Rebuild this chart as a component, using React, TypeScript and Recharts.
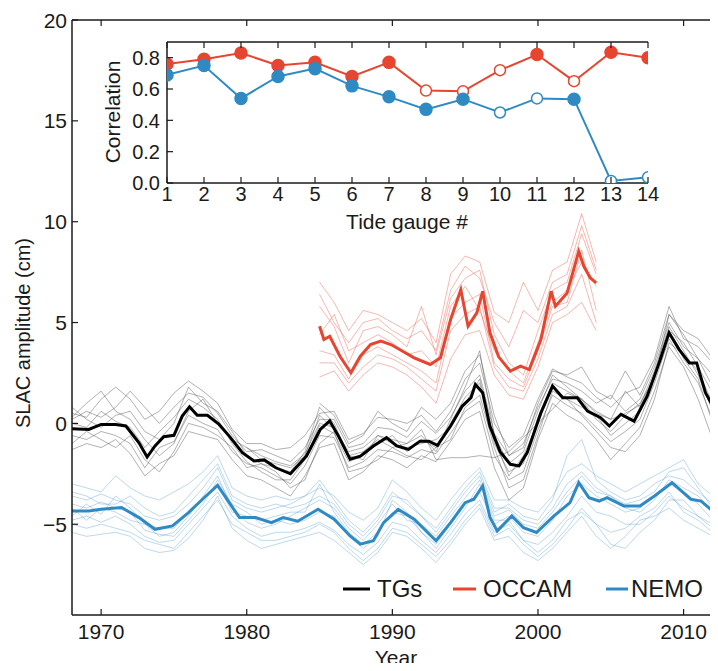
import { LineChart, Line, XAxis, YAxis } from "recharts";

const FONT = "'Liberation Sans', Arial, Helvetica, sans-serif";
const INK = "#1a1a1a";
const RED = "#e6452f";
const BLUE = "#2f8ac4";

// inset: correlation of each model with the tide gauges
const gauges = [1, 2, 3, 4, 5, 6, 7, 8, 9, 10, 11, 12, 13, 14];
const occamCorr = [0.76, 0.79, 0.83, 0.75, 0.77, 0.68, 0.77, 0.59, 0.585, 0.72, 0.82, 0.65, 0.835, 0.8];
const occamSig = [true, true, true, true, true, true, true, false, false, false, true, false, true, true];
const nemoCorr = [0.69, 0.75, 0.54, 0.68, 0.73, 0.62, 0.55, 0.47, 0.535, 0.45, 0.54, 0.535, 0.013, 0.036];
const nemoSig = [true, true, true, true, true, true, true, true, true, false, false, true, false, false];
const corrTicks = [0, 0.2, 0.4, 0.6, 0.8];

// main panel
const yearTicks = [1970, 1980, 1990, 2000, 2010];
const slacTicks = [-5, 0, 5, 10, 15, 20];

// ensemble means (thick lines)
const tgYears = [1968.0, 1969.15, 1970.0, 1971.0, 1971.7, 1972.6, 1973.16, 1973.7, 1974.3, 1975.0, 1975.57, 1976.07, 1976.6, 1977.3, 1978.1, 1978.8, 1979.7, 1980.5, 1981.2, 1982.0, 1983.0, 1984.1, 1985.05, 1985.7, 1986.3, 1987.1, 1987.8, 1988.7, 1989.6, 1990.3, 1991.1, 1991.9, 1992.5, 1993.1, 1994.0, 1994.8, 1995.4, 1995.7, 1996.2, 1996.7, 1997.4, 1998.1, 1998.7, 1999.26, 2000.2, 2001.0, 2001.7, 2002.7, 2003.4, 2004.3, 2004.9, 2005.7, 2006.6, 2007.5, 2008.4, 2009.0, 2009.7, 2010.4, 2010.9, 2011.5, 2012.4];
const tgMean = [-0.26, -0.3, -0.05, -0.05, -0.13, -0.96, -1.67, -1.12, -0.66, -0.59, 0.36, 0.82, 0.4, 0.4, -0.05, -0.63, -1.45, -1.86, -1.81, -2.2, -2.5, -1.62, -0.3, 0.12, -0.63, -1.78, -1.62, -1.12, -0.71, -1.12, -1.29, -0.88, -0.88, -1.09, -0.13, 0.86, 1.27, 1.93, 1.52, -0.15, -1.4, -2.03, -2.11, -1.45, 0.53, 1.85, 1.27, 1.27, 0.61, 0.28, -0.13, 0.45, 0.11, 1.35, 3.17, 4.49, 3.66, 3.0, 3.0, 1.52, 0.36];

const nemoYears = [1968.0, 1969.15, 1970.0, 1971.4, 1972.6, 1973.7, 1974.9, 1976.0, 1977.2, 1978.0, 1978.8, 1979.5, 1980.6, 1981.7, 1982.5, 1983.5, 1984.9, 1986.0, 1987.1, 1987.8, 1988.7, 1989.4, 1990.4, 1991.5, 1993.0, 1994.0, 1995.0, 1995.6, 1996.2, 1996.7, 1997.2, 1998.2, 1999.0, 1999.9, 2001.1, 2002.2, 2002.8, 2003.5, 2004.2, 2004.75, 2005.9, 2007.0, 2008.0, 2009.2, 2010.5, 2011.2, 2012.4];
const nemoMean = [-4.34, -4.34, -4.26, -4.17, -4.67, -5.25, -5.08, -4.42, -3.6, -3.07, -3.93, -4.67, -4.67, -4.92, -4.67, -4.85, -4.26, -4.75, -5.58, -5.99, -5.82, -4.92, -4.26, -4.75, -5.82, -4.92, -3.93, -3.76, -3.1, -4.65, -5.33, -4.59, -5.17, -5.41, -4.59, -3.93, -2.94, -3.68, -3.85, -3.68, -4.09, -4.09, -3.6, -2.94, -3.76, -3.85, -4.59];

const occamYears = [1985.0, 1985.3, 1985.7, 1986.4, 1987.15, 1987.8, 1988.5, 1989.2, 1989.9, 1990.5, 1991.5, 1992.6, 1993.3, 1994.0, 1994.7, 1995.2, 1995.8, 1996.2, 1996.7, 1997.3, 1998.1, 1998.8, 1999.4, 2000.2, 2000.9, 2001.2, 2002.0, 2002.8, 2003.15, 2003.6, 2004.0];
const occamMean = [4.82, 4.16, 4.32, 3.33, 2.51, 3.33, 3.91, 4.08, 3.91, 3.66, 3.25, 2.92, 3.25, 5.15, 6.63, 4.82, 5.48, 6.55, 4.5, 3.3, 2.59, 2.84, 2.67, 4.16, 6.55, 5.81, 6.47, 8.53, 7.79, 7.21, 6.97];

// individual gauges / model points (thin lines), annual reads
const annualYears = [1968, 1969, 1970, 1971, 1972, 1973, 1974, 1975, 1976, 1977, 1978, 1979, 1980, 1981, 1982, 1983, 1984, 1985, 1986, 1987, 1988, 1989, 1990, 1991, 1992, 1993, 1994, 1995, 1996, 1997, 1998, 1999, 2000, 2001, 2002, 2003, 2004, 2005, 2006, 2007, 2008, 2009, 2010, 2011, 2012];
const tgMembers = [
  [0.5, 0.3, 1.2, 1.8, 1.2, 0.2, 0.6, 1.5, 2.1, 1.6, 1.0, -0.3, -1.0, -1.0, -1.3, -1.2, -0.6, 0.5, 0.6, -0.8, -0.5, 0.3, 0.2, 0.0, 0.4, -0.4, 0.6, 2.2, 3.0, 0.0, -1.2, -0.6, 1.2, 2.7, 2.3, 2.0, 1.3, 0.8, 1.5, 1.8, 3.2, 5.8, 4.2, 3.8, 3.0],
  [-1.3, -1.0, -1.2, -0.8, -1.5, -2.6, -2.0, -1.6, -0.4, -0.6, -0.8, -1.8, -2.6, -2.8, -3.2, -3.6, -2.6, -1.2, -1.0, -2.8, -2.4, -1.6, -1.8, -2.2, -1.6, -1.9, -0.9, 0.2, 0.6, -2.2, -3.8, -3.2, -0.8, 1.0, 0.4, 0.0, -0.8, -1.8, -1.0, -0.2, 1.6, 3.8, 2.8, 1.2, -0.8],
  [0.2, 0.6, 0.3, 0.8, 1.6, 0.8, 0.0, 0.8, 1.5, 1.3, 0.5, -0.6, -1.4, -1.3, -1.6, -1.9, -1.2, 0.2, 0.2, -1.2, -1.0, -0.2, -0.3, -0.7, 0.1, -0.5, 0.3, 1.6, 2.4, -0.5, -1.6, -1.0, 0.8, 2.2, 2.0, 1.6, 1.0, 1.4, 0.6, 1.2, 2.8, 5.0, 3.8, 3.2, 1.8],
  [-0.6, -0.8, -0.4, -0.6, -1.0, -2.2, -1.2, -0.9, 0.4, 0.0, -0.3, -1.4, -2.0, -2.2, -2.6, -3.0, -2.1, -0.6, -0.7, -2.2, -1.9, -1.3, -1.4, -1.7, -1.3, -1.5, -0.5, 0.6, 1.1, -1.6, -2.8, -2.4, -0.3, 1.4, 0.9, 0.5, -0.2, -0.9, -0.4, 0.2, 2.0, 4.2, 3.0, 2.0, 0.2],
  [null, null, null, null, null, null, null, null, null, null, null, null, -1.2, -1.6, -1.9, -2.1, -1.5, 0.0, -0.2, -1.4, -1.2, -0.6, -0.8, -1.0, -0.3, -1.8, -1.7, -1.7, -1.6, -1.7, -1.4, -0.7, 0.0, 0.7, 1.5, 1.2, 0.5, 0.2, 1.6, 0.8, 2.4, 4.6, 4.0, 2.8, 1.5],
  [0.0, -0.2, 0.6, 0.1, -0.2, -1.2, -0.4, 0.3, 1.2, 0.8, 0.2, -1.0, -1.9, -2.4, -2.8, -2.8, -1.8, -0.1, -0.5, -1.9, -1.6, -1.0, -0.6, -1.4, -0.8, -1.2, 0.0, 1.3, 2.0, -1.0, -2.4, -2.0, 0.3, 2.0, 1.6, 1.2, 0.6, 0.2, 0.5, 0.9, 2.6, 4.8, 3.6, 2.4, 0.6],
  [0.8, 0.2, -0.2, 0.4, 0.6, -0.4, -0.8, 0.0, 1.8, 1.0, 0.6, -0.4, -1.6, -2.0, -2.2, -2.4, -1.4, 0.8, 0.0, -1.6, -1.4, -0.8, -1.2, -1.0, -0.6, -1.4, 0.2, 1.8, 3.6, -0.6, -2.0, -1.4, 0.6, 2.4, 1.8, 1.2, 0.2, -0.4, 0.4, 1.0, 2.2, 5.4, 4.4, 3.2, 2.4],
  [-1.0, -0.4, -0.8, -1.2, -0.6, -1.8, -2.4, -1.4, 0.0, -0.2, -0.6, -1.2, -2.2, -2.0, -2.4, -3.2, -2.8, -1.0, -0.4, -2.4, -2.2, -1.8, -1.2, -1.6, -1.8, -1.2, -0.8, 0.8, 1.4, -1.2, -3.2, -2.8, -0.6, 1.6, 1.2, 0.4, -0.4, -1.2, -1.4, -0.6, 1.2, 4.0, 3.4, 2.6, 1.0],
  [null, null, null, null, null, null, null, null, null, null, null, null, null, null, null, null, null, 1.0, 0.4, -1.0, -0.6, 0.6, 0.0, -0.4, 0.8, 0.2, 1.0, 2.6, 3.4, 0.4, -1.6, -1.2, 1.0, 2.6, 2.4, 2.8, 1.6, 1.2, 2.6, 1.4, 3.0, 5.4, 4.6, 4.2, 3.2],
  [0.3, 1.0, 1.6, 0.6, 0.2, -0.8, -1.6, -1.0, 0.6, 1.2, 0.0, -0.8, -1.2, -1.8, -2.0, -2.2, -1.6, 0.4, -0.3, -1.6, -1.8, -0.6, -1.0, -1.2, -1.0, -0.8, -0.2, 1.0, 2.2, -0.8, -2.6, -1.6, 0.0, 1.8, 1.2, 0.8, 0.4, -0.6, 0.0, 0.6, 2.4, 4.6, 3.2, 2.2, 0.0],
];
const nemoMembers = [
  [-3.0, -3.2, -3.4, -2.6, -3.2, -3.6, -3.8, -3.4, -3.0, -2.4, -1.6, -3.2, -3.6, -3.8, -3.6, -3.8, -3.6, -3.2, -3.6, -4.4, -4.8, -4.2, -2.8, -3.4, -4.2, -4.8, -3.8, -2.9, -2.2, -3.8, -3.8, -4.2, -4.4, -3.6, -2.4, -2.0, -2.6, -3.0, -3.4, -3.0, -2.6, -2.2, -1.8, -3.0, -3.6],
  [-5.4, -5.6, -5.5, -5.4, -5.6, -6.2, -6.4, -6.3, -5.7, -4.8, -3.6, -5.2, -5.8, -6.2, -6.0, -5.8, -5.6, -5.4, -5.8, -6.4, -7.0, -6.4, -5.4, -5.6, -6.2, -6.9, -6.0, -5.0, -4.2, -5.8, -5.6, -6.4, -6.8, -6.2, -5.4, -4.6, -5.6, -6.2, -5.6, -4.8, -4.6, -4.2, -4.8, -5.2, -5.6],
  [-3.6, -3.8, -3.5, -3.8, -4.0, -4.6, -4.8, -4.6, -4.0, -3.2, -2.2, -3.8, -4.2, -4.4, -4.2, -4.0, -3.6, -2.8, -3.8, -4.8, -5.4, -4.6, -3.4, -4.0, -4.6, -5.4, -4.4, -3.4, -2.6, -4.4, -4.0, -4.6, -4.8, -3.8, -1.6, -0.8, -2.8, -3.4, -3.8, -3.6, -3.0, -2.6, -2.8, -3.4, -4.0],
  [-4.8, -4.6, -4.9, -4.6, -5.0, -5.6, -5.9, -5.8, -5.0, -4.2, -3.4, -4.6, -5.2, -5.6, -5.4, -5.4, -5.2, -4.9, -5.3, -6.0, -6.5, -5.9, -4.9, -5.1, -5.8, -6.4, -5.5, -4.5, -3.8, -5.4, -5.0, -5.8, -6.0, -5.4, -4.6, -3.6, -4.4, -4.6, -5.0, -5.0, -4.4, -3.6, -4.2, -4.6, -5.2],
  [-4.0, -4.2, -3.9, -4.2, -4.4, -5.3, -5.5, -5.6, -4.8, -4.0, -2.8, -4.0, -4.4, -5.0, -4.8, -5.0, -4.8, -4.4, -4.6, -5.6, -6.2, -5.6, -3.8, -4.4, -5.4, -6.2, -5.2, -4.2, -3.0, -4.8, -4.8, -5.8, -6.4, -5.8, -4.8, -4.4, -5.0, -6.0, -6.2, -5.4, -4.8, -3.8, -3.8, -4.6, -5.0],
  [-4.6, -4.0, -4.5, -3.6, -4.2, -5.0, -5.6, -5.4, -4.6, -3.6, -2.6, -4.2, -4.9, -5.2, -5.0, -4.6, -4.2, -3.8, -4.2, -5.2, -5.8, -5.0, -4.0, -4.8, -5.0, -5.6, -4.6, -3.7, -2.8, -4.6, -4.3, -5.0, -5.2, -4.4, -3.4, -2.6, -3.4, -3.6, -4.2, -4.4, -3.8, -2.8, -3.2, -3.6, -4.4],
  [-4.2, -4.8, -4.2, -4.4, -4.8, -5.0, -5.2, -5.2, -4.4, -3.8, -3.0, -4.4, -4.6, -4.8, -4.6, -4.4, -4.4, -3.0, -4.4, -5.4, -6.0, -5.4, -4.4, -4.6, -5.4, -6.0, -5.0, -4.0, -3.4, -5.0, -4.6, -5.4, -5.6, -4.8, -3.6, -3.0, -3.6, -4.0, -4.4, -4.2, -3.6, -3.0, -3.4, -4.0, -4.8],
  [-3.4, -3.6, -4.0, -4.0, -3.6, -4.2, -4.6, -4.4, -3.6, -2.8, -2.0, -3.6, -4.0, -4.2, -4.0, -4.2, -4.0, -3.6, -4.0, -5.0, -5.6, -4.8, -3.6, -3.8, -4.6, -5.2, -4.2, -3.2, -2.4, -4.2, -4.2, -4.8, -5.0, -4.2, -3.0, -2.4, -3.2, -3.6, -4.0, -3.8, -3.4, -2.4, -2.2, -3.2, -4.2],
  [-5.0, -5.2, -5.0, -5.2, -5.4, -5.8, -6.0, -6.2, -5.4, -4.6, -3.8, -5.0, -5.4, -5.8, -5.8, -5.6, -5.4, -5.0, -5.4, -6.2, -6.8, -6.2, -5.2, -5.4, -6.0, -6.6, -5.8, -4.8, -4.0, -5.6, -5.2, -6.0, -6.6, -6.0, -5.2, -4.2, -5.0, -5.4, -5.2, -4.6, -4.2, -3.4, -4.4, -4.8, -5.4],
];
const occamAnnualYears = [1985, 1986, 1987, 1988, 1989, 1990, 1991, 1992, 1993, 1994, 1995, 1996, 1997, 1998, 1999, 2000, 2001, 2002, 2003, 2004];
const occamMembers = [
  [7.0, 6.0, 4.6, 5.6, 5.4, 5.0, 4.6, 5.2, 4.0, 7.4, 8.3, 8.0, 5.5, 5.0, 7.0, 5.6, 7.6, 8.0, 10.4, 8.0],
  [2.3, 2.6, 1.6, 2.4, 3.0, 2.8, 2.4, 1.8, 1.0, 3.2, 4.4, 4.6, 2.4, 1.4, 1.2, 2.8, 5.0, 5.4, 6.0, 4.6],
  [5.8, 4.8, 3.0, 4.6, 4.8, 4.4, 3.8, 5.8, 3.4, 6.2, 7.2, 7.6, 4.4, 3.0, 2.4, 4.6, 6.6, 7.0, 9.4, 7.4],
  [3.6, 3.4, 2.2, 3.4, 3.8, 3.4, 3.0, 2.6, 2.0, 5.2, 6.0, 6.4, 3.0, 2.2, 1.8, 3.6, 5.8, 6.0, 8.6, 5.6],
  [4.4, 5.4, 3.6, 4.0, 4.4, 4.0, 3.4, 3.6, 2.8, 5.8, 6.8, 5.6, 3.6, 2.6, 2.0, 4.0, 6.0, 6.6, 8.0, 6.8],
  [6.4, 5.0, 4.0, 5.0, 5.2, 4.6, 4.2, 4.6, 3.6, 6.6, 7.8, 7.2, 5.0, 3.8, 5.6, 5.0, 7.0, 7.4, 9.8, 7.6],
  [3.0, 3.0, 2.0, 2.8, 3.4, 3.2, 2.8, 2.2, 1.6, 4.6, 5.4, 5.8, 2.8, 1.8, 1.6, 3.2, 5.4, 5.8, 7.4, 5.0],
];

const pts = (xs: number[], ys: (number | null)[]) => xs.map((x, i) => ({ x, y: ys[i] }));

const gaugeRows = gauges.map((g, i) => ({
  g,
  occam: occamCorr[i],
  occamSig: occamSig[i],
  nemo: nemoCorr[i],
  nemoSig: nemoSig[i],
}));

// inward ticks, matplotlib style
const TL = 6;
const bottomTick = (gap: number, size: number, fmt?: (v: number) => string) => (p: any) => (
  <g key={`b-${p.payload.value}`}>
    <line x1={p.x} x2={p.x} y1={p.y - gap} y2={p.y - gap - TL} stroke={INK} strokeWidth={1.2} />
    <text x={p.x} y={p.y} dy="0.75em" textAnchor="middle" fontSize={size} fill={INK} fontFamily={FONT}>
      {fmt ? fmt(p.payload.value) : p.payload.value}
    </text>
  </g>
);
const leftTick = (gap: number, size: number, fmt?: (v: number) => string) => (p: any) => (
  <g key={`l-${p.payload.value}`}>
    <line x1={p.x + gap} x2={p.x + gap + TL} y1={p.y} y2={p.y} stroke={INK} strokeWidth={1.2} />
    <text x={p.x} y={p.y} dy="0.36em" textAnchor="end" fontSize={size} fill={INK} fontFamily={FONT}>
      {fmt ? fmt(p.payload.value) : String(p.payload.value).replace("-", "\u2212")}
    </text>
  </g>
);
const topTick = (p: any) => (
  <line key={`t-${p.payload.value}`} x1={p.x} x2={p.x} y1={p.y} y2={p.y + TL} stroke={INK} strokeWidth={1.2} />
);
const rightTick = (p: any) => (
  <line key={`r-${p.payload.value}`} x1={p.x} x2={p.x - TL} y1={p.y} y2={p.y} stroke={INK} strokeWidth={1.2} />
);

// inset plot box (svg coords) so markers get cut at the frame like the original
const INSET_CLIP = { x: 67, y: 12, width: 481, height: 141 };

const corrDot = (color: string, sigKey: string) => (p: any) => {
  const filled = p.payload[sigKey];
  return (
    <g key={`${sigKey}-${p.index}`}>
      {p.index === 0 && (
        <defs>
          <clipPath id={`clip-${sigKey}`}>
            <rect {...INSET_CLIP} />
          </clipPath>
        </defs>
      )}
      <circle
        clipPath={`url(#clip-${sigKey})`}
        cx={p.cx}
        cy={p.cy}
        r={filled ? 6 : 5.5}
        fill={filled ? color : "#fff"}
        stroke={color}
        strokeWidth={1.5}
      />
    </g>
  );
};

const axisLine = { stroke: INK, strokeWidth: 1.5 };

function Inset() {
  return (
    <LineChart width={560} height={215} data={gaugeRows} margin={{ top: 2, right: 12, bottom: 0, left: 0 }}>
      <XAxis dataKey="g" type="number" domain={[1, 14]} ticks={gauges} allowDataOverflow interval={0}
        height={62} tickSize={0} tickMargin={3} tickLine={false} axisLine={axisLine} tick={bottomTick(3, 20)} />
      <XAxis xAxisId="top" orientation="top" dataKey="g" type="number" domain={[1, 14]} ticks={gauges}
        allowDataOverflow interval={0} height={10} tickSize={0} tickMargin={0} tickLine={false} axisLine={axisLine} tick={topTick} />
      <YAxis type="number" domain={[0, 0.9]} ticks={corrTicks} allowDataOverflow interval={0} width={67}
        tickSize={0} tickMargin={7} tickLine={false} axisLine={axisLine} tick={leftTick(7, 20, (v) => v.toFixed(1))} />
      <YAxis yAxisId="right" orientation="right" type="number" domain={[0, 0.9]} ticks={corrTicks} allowDataOverflow
        interval={0} width={0} tickSize={0} tickMargin={0} tickLine={false} axisLine={axisLine} tick={rightTick} />
      <Line dataKey="occam" type="linear" stroke={RED} strokeWidth={2} dot={corrDot(RED, "occamSig")} activeDot={false} isAnimationActive={false} />
      <Line dataKey="nemo" type="linear" stroke={BLUE} strokeWidth={2} dot={corrDot(BLUE, "nemoSig")} activeDot={false} isAnimationActive={false} />
    </LineChart>
  );
}

export default function App() {
  return (
    <div style={{ position: "relative", width: 710, height: 663, marginBottom: -8, overflow: "hidden", fontFamily: FONT }}>
      <LineChart width={712} height={663} margin={{ top: 2, right: 0, bottom: 0, left: 0 }}>
        <XAxis dataKey="x" type="number" domain={[1968, 2012.5]} ticks={yearTicks} allowDataOverflow interval={0}
          height={56} tickSize={0} tickMargin={8} tickLine={false} axisLine={axisLine} tick={bottomTick(8, 21)} />
        <XAxis xAxisId="top" orientation="top" dataKey="x" type="number" domain={[1968, 2012.5]} ticks={yearTicks}
          allowDataOverflow interval={0} height={10} tickSize={0} tickMargin={0} tickLine={false} axisLine={axisLine} tick={topTick} />
        <YAxis type="number" domain={[-9.5, 20]} ticks={slacTicks} allowDataOverflow interval={0} width={64}
          tickSize={0} tickMargin={5} tickLine={false} axisLine={axisLine} tick={leftTick(5, 21)} />

        {tgMembers.map((m, i) => (
          <Line key={`tg-${i}`} data={pts(annualYears, m)} dataKey="y" type="linear" stroke="rgba(70,70,70,0.42)"
            strokeWidth={1} dot={false} activeDot={false} isAnimationActive={false} />
        ))}
        {nemoMembers.map((m, i) => (
          <Line key={`nemo-${i}`} data={pts(annualYears, m)} dataKey="y" type="linear" stroke="rgba(47,138,196,0.32)"
            strokeWidth={1} dot={false} activeDot={false} isAnimationActive={false} />
        ))}
        {occamMembers.map((m, i) => (
          <Line key={`occam-${i}`} data={pts(occamAnnualYears, m)} dataKey="y" type="linear" stroke="rgba(230,69,47,0.38)"
            strokeWidth={1} dot={false} activeDot={false} isAnimationActive={false} />
        ))}

        <Line data={pts(tgYears, tgMean)} dataKey="y" type="linear" stroke="#000" strokeWidth={3} dot={false} activeDot={false} isAnimationActive={false} />
        <Line data={pts(nemoYears, nemoMean)} dataKey="y" type="linear" stroke={BLUE} strokeWidth={3} dot={false} activeDot={false} isAnimationActive={false} />
        <Line data={pts(occamYears, occamMean)} dataKey="y" type="linear" stroke={RED} strokeWidth={3} dot={false} activeDot={false} isAnimationActive={false} />
      </LineChart>

      <div style={{ position: "absolute", left: 92, top: 22 }}>
        <Inset />
      </div>

      <svg width={710} height={663} style={{ position: "absolute", left: 0, top: 0, pointerEvents: "none" }} fontFamily={FONT} fill={INK}>
        <text transform="translate(15,325) rotate(-90)" textAnchor="middle" dominantBaseline="central" fontSize={20}>SLAC amplitude (cm)</text>
        <text x={388} y={657} textAnchor="middle" fontSize={21}>Year</text>
        <text transform="translate(104,104) rotate(-90)" textAnchor="middle" dominantBaseline="central" fontSize={21}>Correlation</text>
        <text x={399} y={221} textAnchor="middle" fontSize={21}>Tide gauge #</text>

        <line x1={335} x2={362} y1={581} y2={581} stroke="#000" strokeWidth={3} />
        <text x={369} y={589} fontSize={24}>TGs</text>
        <line x1={445} x2={468} y1={581} y2={581} stroke={RED} strokeWidth={3} />
        <text x={475} y={589} fontSize={24}>OCCAM</text>
        <line x1={598} x2={620} y1={581} y2={581} stroke={BLUE} strokeWidth={3} />
        <text x={623} y={589} fontSize={24}>NEMO</text>
      </svg>
    </div>
  );
}
